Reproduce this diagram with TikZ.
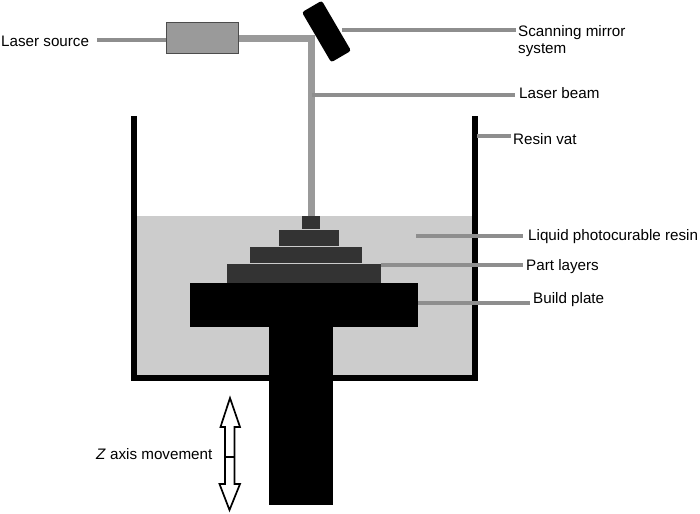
\documentclass[tikz,border=0pt]{standalone}
\usepackage{fontspec}
\setmainfont{Liberation Sans}
\definecolor{beam}{HTML}{9A9A9A}
\definecolor{lead}{HTML}{8E8E8E}
\definecolor{resin}{HTML}{CCCCCC}
\definecolor{layer}{HTML}{333333}
\tikzset{
  lbl/.style={inner sep=0pt,anchor=west,font=\fontsize{15.2}{17.5}\selectfont,text=black},
  leadline/.style={draw=lead,line width=3.2pt},
  beamline/.style={draw=beam,line width=6.5pt},
  solid box/.style={fill=black,draw=none,inner sep=0pt,outer sep=0pt},
  layerbox/.style={fill=layer,draw=none,inner sep=0pt,outer sep=0pt},
  vatwall/.style={draw=black,line width=6pt,line join=miter}
}
\begin{document}
\begin{tikzpicture}[x=1pt,y=-1pt]
\useasboundingbox (0,0) rectangle (700,513);
% resin and vat
\fill[resin] (134,216) rectangle (475,378);
\coordinate (vatTL) at (134,116);
\coordinate (vatBL) at (134,378);
\coordinate (vatBR) at (475,378);
\coordinate (vatTR) at (475,116);
\draw[vatwall] (vatTL) -- (vatBL) -- (vatBR) -- (vatTR);
% part layers
\node[layerbox,minimum width=18pt,minimum height=13pt] (l1) at (311,222.5) {};
\node[layerbox,minimum width=60pt,minimum height=16pt] (l2) at (309,238) {};
\node[layerbox,minimum width=112pt,minimum height=16pt] (l3) at (306,255) {};
\node[layerbox,minimum width=154pt,minimum height=19pt] (l4) at (304,273.5) {};
\node[solid box,minimum width=228pt,minimum height=44pt] (plate) at (304,305) {};
\node[solid box,minimum width=64pt,minimum height=178pt] (stem) at (301,416) {};
% laser
\node[draw=black!70,fill=beam,line width=1pt,minimum width=72pt,minimum height=31pt,inner sep=0pt] (laser) at (202.5,38) {};
\coordinate (corner) at (311.5,38.5);
\coordinate (beamjoin) at (311.5,95);
\draw[beamline] (laser.east |- corner) -- (corner) -- (corner |- l1.north);
% labels
\node[lbl] (tLaser) at (1,41) {Laser source};
\node[lbl,align=left] (tMirror) at (518,41) {Scanning mirror\\system};
\node[lbl] (tBeam) at (519,93) {Laser beam};
\node[lbl] (tVat) at (513,139) {Resin vat};
\node[lbl] (tResin) at (528,237) {Liquid photocurable resin};
\node[lbl] (tLayers) at (526,267) {Part layers};
\node[lbl] (tPlate) at (533,300) {Build plate};
\node[lbl] (tZ) at (96,454) {\textit{Z} axis movement};
% mirror
\node[fill=black,rounded corners=2.5pt,minimum width=58pt,minimum height=23pt,inner sep=0pt,rotate=-59.7] (mirror) at (326.5,31.5) {};
% leader lines
\coordinate (mLead) at (342,30);
\coordinate (rLead) at (416,236);
\coordinate (vatLead) at (477,136);
\draw[leadline] (tLaser.east) ++(8,-1) -- (laser.west |- 0,40);
\draw[leadline] (mLead) -- (516,30);
\draw[leadline] (beamjoin) -- (515,95);
\draw[leadline] (vatLead) -- (511,136);
\draw[leadline] (rLead) -- (523,236);
\draw[leadline] (l4.east |- 0,265) -- (523,265);
\draw[leadline] (plate.east |- 0,303) -- (530,303);
% z arrow
\coordinate (zmid) at (229.5,457);
\draw[black,line width=1.7pt,line join=miter,fill=white]
  (230,398) -- (240,427) -- (234.5,427) -- (234.5,484) -- (240,484) -- (229.5,510)
  -- (219.5,484) -- (225,484) -- (225,427) -- (220.5,427) -- cycle;
\draw[black,line width=1.2pt] (225,457) -- (zmid) -- (234.5,457);
\end{tikzpicture}
\end{document}
